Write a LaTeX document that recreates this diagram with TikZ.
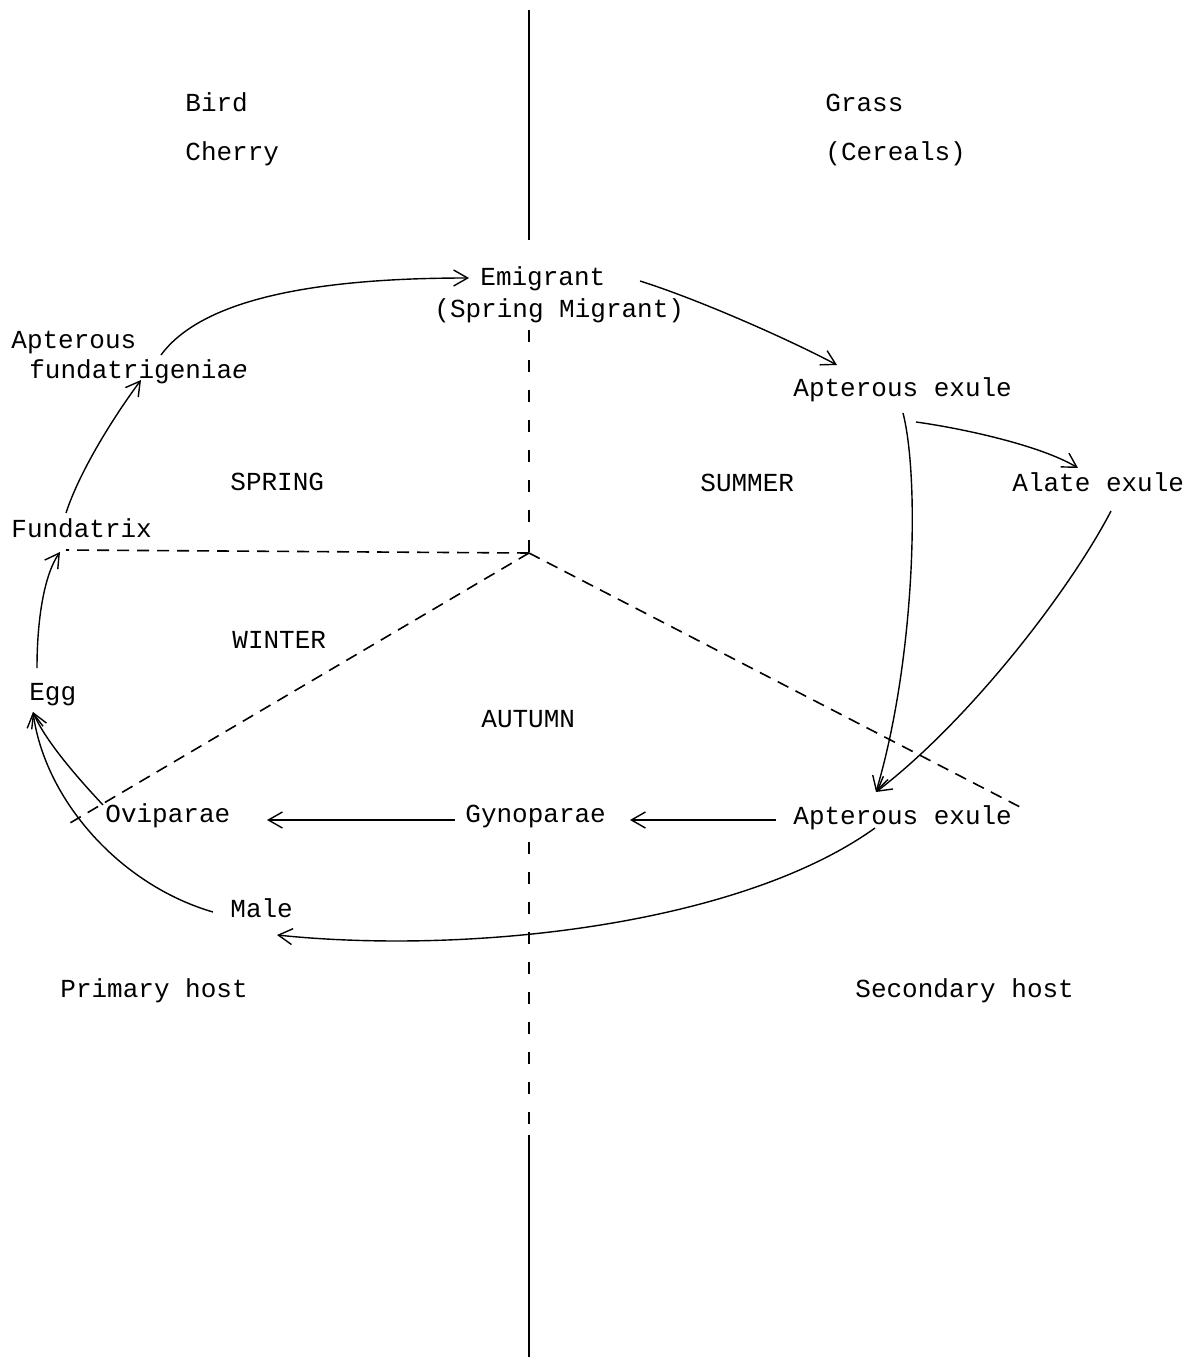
\documentclass[tikz,border=0pt]{standalone}
\usepackage{fontspec}
\setmainfont{Liberation Mono}
\usetikzlibrary{arrows.meta,calc}
\begin{document}
\begin{tikzpicture}[x=0.5pt,y=-0.5pt,
  lbl/.style={anchor=base west,inner sep=0pt,font=\fontsize{13}{15}\selectfont},
  link/.style={line width=0.7pt,-{Straight Barb[length=7pt,width=8pt]}},
  axisline/.style={line width=0.8pt},
  sector/.style={line width=0.8pt,dash pattern=on 6pt off 4pt},
  vsector/.style={line width=0.8pt,dash pattern=on 6pt off 9pt}]
\useasboundingbox (0,0) rectangle (1199,1359);

% labels
\node[lbl] (bird) at (185,112) {Bird};
\node[lbl] (cherry) at (185,160) {Cherry};
\node[lbl] (grass) at (825,112) {Grass};
\node[lbl] (cereals) at (825,160) {(Cereals)};
\node[lbl] (emig) at (480,285) {Emigrant};
\node[lbl] (spmig) at (434,317) {(Spring Migrant)};
\node[lbl] (apt) at (11,348) {Apterous};
\node[lbl] (fundg) at (29,378) {fundatrigenia{\itshape e}};
\node[lbl] (spring) at (230,490) {SPRING};
\node[lbl] (summer) at (700,491) {SUMMER};
\node[lbl] (winter) at (232,648) {WINTER};
\node[lbl] (autumn) at (481,727) {AUTUMN};
\node[lbl] (fundx) at (11,537) {Fundatrix};
\node[lbl] (egg) at (29,700) {Egg};
\node[lbl] (aptex1) at (793,396) {Apterous exule};
\node[lbl] (alate) at (1012,491) {Alate exule};
\node[lbl] (aptex2) at (793,824) {Apterous exule};
\node[lbl] (ovi) at (105,822) {Oviparae};
\node[lbl] (gyno) at (465,822) {Gynoparae};
\node[lbl] (male) at (230,917) {Male};
\node[lbl] (prim) at (60,997) {Primary host};
\node[lbl] (sec) at (855,997) {Secondary host};

% axis and season dividers
\coordinate (c) at (529,553);
\coordinate (top1) at (529,10);
\coordinate (top2) at (529,240);
\coordinate (bot1) at (529,1135);
\coordinate (bot2) at (529,1357);
\coordinate (dashend) at (529,1126);
\draw[axisline] (top1) -- (top2);
\draw[axisline] (bot1) -- (bot2);
\draw[vsector] ($(spmig.base west)+(95,13)$) -- (c);
\draw[vsector] ($(gyno.base west)+(64,20)$) -- (dashend);
\draw[sector] (c) -- ($(fundx.base west)+(55,13)$);
\draw[sector] (c) -- ($(ovi.base west)+(-35,1)$);
\draw[sector] (c) -- ($(aptex2.base west)+(227,-17)$);

% life-cycle arrows
\draw[link] ($(fundg.base west)+(132,-23)$) .. controls (205,295) and (330,278) .. ($(emig.base west)+(-11,-7)$);
\draw[link] ($(fundx.base west)+(55,-24)$) .. controls (80,470) and (115,415) .. ($(fundg.base west)+(112,2)$);
\draw[link] ($(egg.base west)+(8,-32)$) .. controls (37,620) and (44,575) .. ($(fundx.base west)+(49,15)$);
\draw[link] ($(ovi.base west)+(-2,-17)$) .. controls (75,775) and (45,740) .. ($(egg.base west)+(4,12)$);
\draw[link] ($(male.base west)+(-17,-5)$) .. controls (120,885) and (45,800) .. ($(egg.base west)+(4,12)$);
\draw[link] ($(gyno.base west)+(-10,-2)$) -- ($(ovi.base west)+(162,-2)$);
\draw[link] ($(aptex2.base west)+(-17,-4)$) -- ($(gyno.base west)+(165,-2)$);
\draw[link] ($(aptex2.base west)+(82,4)$) .. controls (740,925) and (470,955) .. ($(male.base west)+(47,18)$);
\draw[link] ($(emig.base west)+(160,-4)$) .. controls (700,300) and (790,340) .. ($(aptex1.base west)+(44,-31)$);
\draw[link] ($(aptex1.base west)+(123,26)$) .. controls (960,428) and (1040,445) .. ($(alate.base west)+(66,-23)$);
\draw[link] ($(aptex1.base west)+(110,17)$) .. controls (920,480) and (915,660) .. ($(aptex2.base west)+(83,-32)$);
\draw[link] ($(alate.base west)+(99,20)$) .. controls (1070,590) and (970,720) .. ($(aptex2.base west)+(83,-32)$);
\end{tikzpicture}
\end{document}
